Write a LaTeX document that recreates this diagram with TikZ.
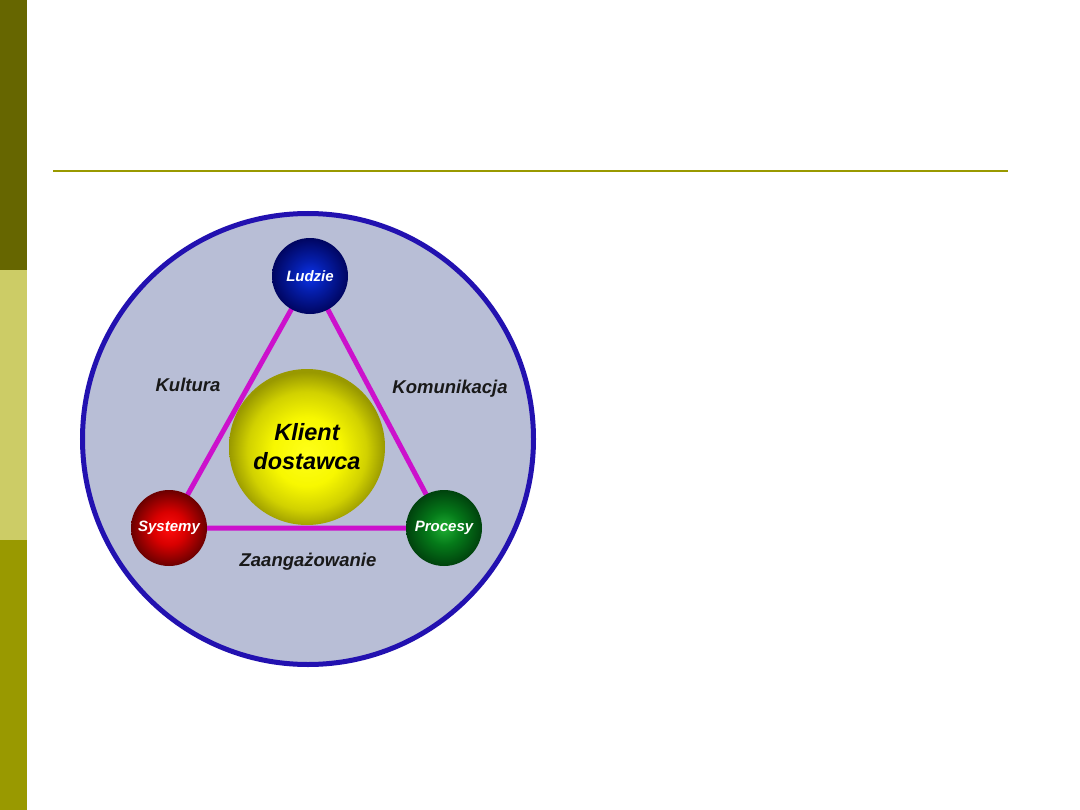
\documentclass[tikz,border=0pt]{standalone}
\usepackage{fontspec}
\setmainfont{Liberation Sans}
\definecolor{barA}{HTML}{666600}
\definecolor{barB}{HTML}{CCCC66}
\definecolor{barC}{HTML}{999900}
\definecolor{rulecol}{HTML}{999900}
\definecolor{ringcol}{HTML}{2211B0}
\definecolor{diskcol}{HTML}{B8BED6}
\definecolor{linkcol}{HTML}{CC11CC}
\pgfdeclareradialshading{yellowball}{\pgfpoint{0bp}{-2bp}}{%
  rgb(0bp)=(1,1,0.1); rgb(11bp)=(0.97,0.97,0); rgb(19bp)=(0.82,0.82,0); rgb(25bp)=(0.6,0.6,0); rgb(50bp)=(0.6,0.6,0)}
\pgfdeclareradialshading{blueball}{\pgfpoint{0bp}{0bp}}{%
  rgb(0bp)=(0.05,0.2,0.92); rgb(10bp)=(0.02,0.12,0.68); rgb(25bp)=(0,0.02,0.38); rgb(50bp)=(0,0.02,0.38)}
\pgfdeclareradialshading{redball}{\pgfpoint{0bp}{0bp}}{%
  rgb(0bp)=(1,0.05,0.05); rgb(11bp)=(0.85,0,0); rgb(25bp)=(0.42,0,0); rgb(50bp)=(0.42,0,0)}
\pgfdeclareradialshading{greenball}{\pgfpoint{0bp}{0bp}}{%
  rgb(0bp)=(0.12,0.68,0.2); rgb(11bp)=(0.02,0.48,0.1); rgb(25bp)=(0,0.26,0.05); rgb(50bp)=(0,0.26,0.05)}
\tikzset{
  sphere/.style={circle, inner sep=0pt, minimum size=76bp, text=white,
    font=\fontsize{15bp}{17bp}\selectfont\bfseries\itshape},
  lbl/.style={inner sep=0pt, text=black!90,
    font=\fontsize{18.5bp}{20bp}\selectfont\bfseries\itshape},
  link/.style={draw=linkcol, line width=5bp}
}
\begin{document}
\begin{tikzpicture}[x=1bp,y=-1bp]
\useasboundingbox (0,0) rectangle (1080,810);
\fill[white] (0,0) rectangle (1080,810);
\fill[barA] (0,0) rectangle (27,270);
\fill[barB] (0,270) rectangle (27,540);
\fill[barC] (0,540) rectangle (27,810);
\coordinate (r1) at (53,171);
\coordinate (r2) at (1008,171);
\draw[rulecol, line width=2bp] (r1) -- (r2);

\node[circle, inner sep=0pt, minimum size=451bp, draw=ringcol, line width=5bp, fill=diskcol] (disk) at (308,439) {};

\coordinate (cL) at (310,276);
\coordinate (cS) at (169,528);
\coordinate (cP) at (444,528);
\draw[link] (cL) -- (cS) -- (cP) -- cycle;

\node[circle, inner sep=0pt, minimum size=156bp, shading=yellowball,
  align=center, font=\fontsize{23.5bp}{29bp}\selectfont\bfseries\itshape] (K) at (307,447) {Klient\\dostawca};

\node[sphere, shading=blueball] (L) at (cL) {Ludzie};
\node[sphere, shading=redball] (S) at (cS) {Systemy};
\node[sphere, shading=greenball] (P) at (cP) {Procesy};

\node[lbl] (kul) at (188,385) {Kultura};
\node[lbl] (kom) at (450,389) {Komunikacja};
\node[lbl] (zaa) at (308,562) {Zaangażowanie};
\end{tikzpicture}
\end{document}
